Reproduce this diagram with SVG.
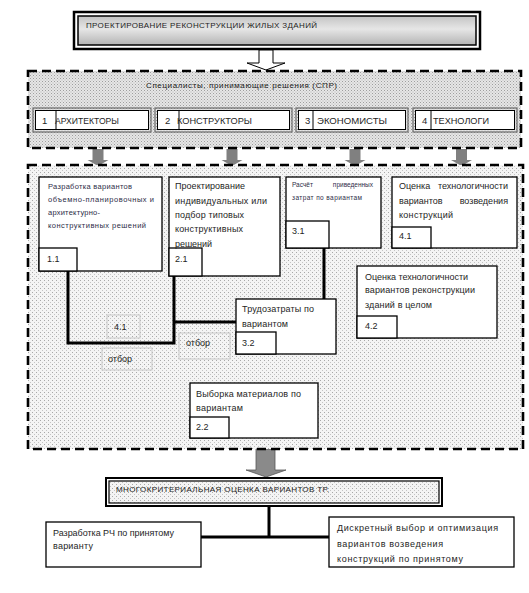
<svg xmlns="http://www.w3.org/2000/svg" width="529" height="593" viewBox="0 0 529 593">
<defs>
<pattern id="hatch" width="3" height="3" patternUnits="userSpaceOnUse"><rect width="3" height="3" fill="#e6e6e6"/><rect width="1" height="1" fill="#9e9e9e"/><rect x="1.5" y="1.5" width="1" height="1" fill="#b4b4b4"/></pattern>
<pattern id="dots" width="4" height="4" patternUnits="userSpaceOnUse"><rect width="4" height="4" fill="#f4f4f4"/><rect width="1" height="1" fill="#a8a8a8"/><rect x="2" y="2" width="1" height="1" fill="#c4c4c4"/></pattern>
<linearGradient id="tg" x1="0" y1="0" x2="0" y2="1"><stop offset="0" stop-color="#c4c4c4"/><stop offset="0.45" stop-color="#e6e6e6"/><stop offset="1" stop-color="#b4b4b4"/></linearGradient>
<style>
text{font-family:"Liberation Sans",Arial,sans-serif;fill:#1e1e1e}
.t8{font-size:8px}.t9{font-size:9px}.t95{font-size:9.5px}.t7{font-size:7.5px}.t6{font-size:6.5px}
.box{fill:#fff;stroke:#000;stroke-width:1.3}
.dash{stroke:#000;stroke-width:2.6;stroke-dasharray:9 5}
.con{fill:none;stroke:#000;stroke-width:3}
.lbl{fill:none;stroke:#c8c8c8;stroke-width:1}
.garrow{fill:#808080}
.blu{fill:#2d2d48}
</style>
</defs>

<g id="title">
<rect x="74" y="12" width="406" height="37" fill="#fff" stroke="#000" stroke-width="2.5"/>
<rect x="78" y="16" width="398" height="29" fill="url(#tg)" stroke="#000" stroke-width="1.5"/>
<text class="t8" x="86" y="28" textLength="231" lengthAdjust="spacing">ПРОЕКТИРОВАНИЕ  РЕКОНСТРУКЦИИ  ЖИЛЫХ ЗДАНИЙ</text>
</g>

<g id="arrows">
<polygon points="259,50 273,50 273,63 285,63 266,70 247,63 259,63" fill="#fff" stroke="#000" stroke-width="1"/>
<polygon class="garrow" points="92.5,149 103.5,149 103.5,160 108.5,160 98,166 87.5,160 92.5,160"/>
<polygon class="garrow" points="226.5,149 237.5,149 237.5,160 242.5,160 232,166 221.5,160 226.5,160"/>
<polygon class="garrow" points="349.5,149 360.5,149 360.5,160 365.5,160 355,166 344.5,160 349.5,160"/>
<polygon class="garrow" points="456,149 467,149 467,160 472,160 461.5,166 451,160 456,160"/>
<polygon points="256,449 275,449 275,470 286,470 266,477 246,470 256,470" fill="#8a8a8a" stroke="#555" stroke-width="0.8"/>
</g>

<g id="spr">
<rect class="dash" x="28" y="71" width="493" height="77" fill="url(#hatch)"/>
<text class="t8" x="146" y="88" textLength="191" lengthAdjust="spacing">Специалисты,  принимающие  решения  (СПР)</text>
</g>

<g id="arch">
<rect x="33" y="108" width="118" height="24" fill="none" stroke="#6a6a6a" stroke-width="1.2"/>
<rect x="35.5" y="110.5" width="113" height="19" fill="#fff" stroke="#000" stroke-width="1"/>
<line x1="56" y1="110.5" x2="56" y2="129.5" stroke="#000"/>
<text class="t95" x="42" y="123.5">1</text>
<text class="t95" x="55" y="123.5" textLength="64" lengthAdjust="spacingAndGlyphs">АРХИТЕКТОРЫ</text>
</g>
<g id="konstr">
<rect x="155" y="108" width="137" height="24" fill="none" stroke="#6a6a6a" stroke-width="1.2"/>
<rect x="157.5" y="110.5" width="132" height="19" fill="#fff" stroke="#000" stroke-width="1"/>
<line x1="179" y1="110.5" x2="179" y2="129.5" stroke="#000"/>
<text class="t95" x="165" y="123.5">2</text>
<text class="t95" x="177" y="123.5" textLength="75" lengthAdjust="spacingAndGlyphs">КОНСТРУКТОРЫ</text>
</g>
<g id="econ">
<rect x="296" y="108" width="112" height="24" fill="none" stroke="#6a6a6a" stroke-width="1.2"/>
<rect x="298.5" y="110.5" width="107" height="19" fill="#fff" stroke="#000" stroke-width="1"/>
<line x1="313" y1="110.5" x2="313" y2="129.5" stroke="#000"/>
<text class="t95" x="305" y="123.5">3</text>
<text class="t95" x="317" y="123.5" textLength="70" lengthAdjust="spacingAndGlyphs">ЭКОНОМИСТЫ</text>
</g>
<g id="tech">
<rect x="413" y="108" width="104" height="24" fill="none" stroke="#6a6a6a" stroke-width="1.2"/>
<rect x="415.5" y="110.5" width="99" height="19" fill="#fff" stroke="#000" stroke-width="1"/>
<line x1="431" y1="110.5" x2="431" y2="129.5" stroke="#000"/>
<text class="t95" x="422" y="123.5">4</text>
<text class="t95" x="433" y="123.5" textLength="56" lengthAdjust="spacingAndGlyphs">ТЕХНОЛОГИ</text>
</g>

<g id="work">
<rect class="dash" x="28" y="165" width="495" height="284" fill="url(#dots)"/>
</g>

<g id="connectors">
<polyline class="con" points="68,271 68,343 174,343 174,276"/>
<line class="con" x1="174" y1="322" x2="236" y2="322"/>
<line class="con" x1="324" y1="248" x2="324" y2="299"/>
<line class="con" x1="269" y1="507" x2="269" y2="537"/>
<line class="con" x1="201" y1="537" x2="329" y2="537"/>
</g>

<g id="lbl41">
<rect class="lbl" x="107" y="315" width="33" height="23"/>
<text class="t9" x="114" y="330">4.1</text>
</g>
<g id="otbor1">
<rect class="lbl" x="102" y="348" width="50" height="22"/>
<text class="t9" x="108" y="362">отбор</text>
</g>
<g id="otbor2">
<rect class="lbl" x="179" y="333" width="51" height="26"/>
<text class="t9" x="186" y="346">отбор</text>
</g>

<g id="n11">
<rect class="box" x="39" y="177" width="123" height="94"/>
<rect class="box" x="39" y="248" width="38" height="23"/>
<text class="t7 blu" x="48" y="189" textLength="84" lengthAdjust="spacing">Разработка вариантов</text>
<text class="t7 blu" x="48" y="202" textLength="106" lengthAdjust="spacing">объемно-планировочных и</text>
<text class="t7 blu" x="48" y="215" textLength="52" lengthAdjust="spacing">архитектурно-</text>
<text class="t7 blu" x="48" y="228" textLength="98" lengthAdjust="spacing">конструктивных решений</text>
<text class="t9" x="47" y="262">1.1</text>
</g>

<g id="n21">
<rect class="box" x="169" y="177" width="111" height="99"/>
<rect class="box" x="169" y="248" width="33" height="28"/>
<text class="t9" x="175" y="189" textLength="70" lengthAdjust="spacing">Проектирование</text>
<text class="t9" x="175" y="204" textLength="92" lengthAdjust="spacing">индивидуальных или</text>
<text class="t9" x="175" y="218" textLength="69" lengthAdjust="spacing">подбор типовых</text>
<text class="t9" x="175" y="232" textLength="68" lengthAdjust="spacing">конструктивных</text>
<text class="t9" x="175" y="247" textLength="37" lengthAdjust="spacing">решений</text>
<text class="t9" x="175" y="262">2.1</text>
</g>

<g id="n31">
<rect class="box" x="286" y="177" width="95" height="71"/>
<rect class="box" x="286" y="221" width="43" height="27"/>
<text class="t6 blu" x="292" y="187">Расчёт</text>
<text class="t6 blu" x="373" y="187" text-anchor="end">приведенных</text>
<text class="t6 blu" x="292" y="200" textLength="70" lengthAdjust="spacing">затрат по вариантам</text>
<text class="t9" x="292" y="234">3.1</text>
</g>

<g id="n41">
<rect class="box" x="392" y="177" width="125" height="71"/>
<rect class="box" x="392" y="227" width="39" height="21"/>
<text class="t9" x="399" y="189">Оценка</text>
<text class="t9" x="508" y="189" text-anchor="end">технологичности</text>
<text class="t9" x="399" y="204">вариантов</text>
<text class="t9" x="508" y="204" text-anchor="end">возведения</text>
<text class="t9" x="399" y="218" textLength="54" lengthAdjust="spacing">конструкций</text>
<text class="t9" x="399" y="239">4.1</text>
</g>

<g id="n42">
<rect class="box" x="357" y="266" width="140" height="72"/>
<rect class="box" x="357" y="316" width="40" height="22"/>
<text class="t9" x="365" y="280" textLength="103" lengthAdjust="spacing">Оценка технологичности</text>
<text class="t9" x="365" y="293" textLength="110" lengthAdjust="spacing">вариантов реконструкции</text>
<text class="t9" x="365" y="308" textLength="67" lengthAdjust="spacing">зданий в целом</text>
<text class="t9" x="365" y="329">4.2</text>
</g>

<g id="n32">
<rect class="box" x="236" y="299" width="100" height="55"/>
<rect class="box" x="236" y="332" width="40" height="22"/>
<text class="t9" x="242" y="312" textLength="72" lengthAdjust="spacing">Трудозатраты по</text>
<text class="t9" x="242" y="327" textLength="46" lengthAdjust="spacing">вариантом</text>
<text class="t9" x="242" y="346">3.2</text>
</g>

<g id="n22">
<rect class="box" x="190" y="383" width="128" height="55"/>
<rect class="box" x="190" y="417" width="39" height="21"/>
<text class="t9" x="196" y="397" textLength="105" lengthAdjust="spacing">Выборка материалов по</text>
<text class="t9" x="196" y="411" textLength="47" lengthAdjust="spacing">вариантам</text>
<text class="t9" x="196" y="430">2.2</text>
</g>

<g id="multi">
<rect x="106" y="478" width="336" height="28" fill="#fff" stroke="#000" stroke-width="2"/>
<rect x="109" y="481" width="330" height="22" fill="url(#dots)" stroke="#000" stroke-width="1.2"/>
<text class="t8" x="116" y="492" textLength="213" lengthAdjust="spacing">МНОГОКРИТЕРИАЛЬНАЯ  ОЦЕНКА  ВАРИАНТОВ  ТР.</text>
</g>

<g id="rch">
<rect class="box" x="46" y="522" width="155" height="45"/>
<text class="t9" x="53" y="536" textLength="121" lengthAdjust="spacing">Разработка РЧ по принятому</text>
<text class="t9" x="53" y="549" textLength="40" lengthAdjust="spacing">варианту</text>
</g>

<g id="discr">
<rect class="box" x="329" y="517" width="185" height="50"/>
<text class="t9" x="337" y="531" textLength="161" lengthAdjust="spacing">Дискретный выбор и оптимизация</text>
<text class="t9" x="337" y="547" textLength="106" lengthAdjust="spacing">вариантов возведения</text>
<text class="t9" x="337" y="562" textLength="126" lengthAdjust="spacing">конструкций по принятому</text>
</g>
</svg>
